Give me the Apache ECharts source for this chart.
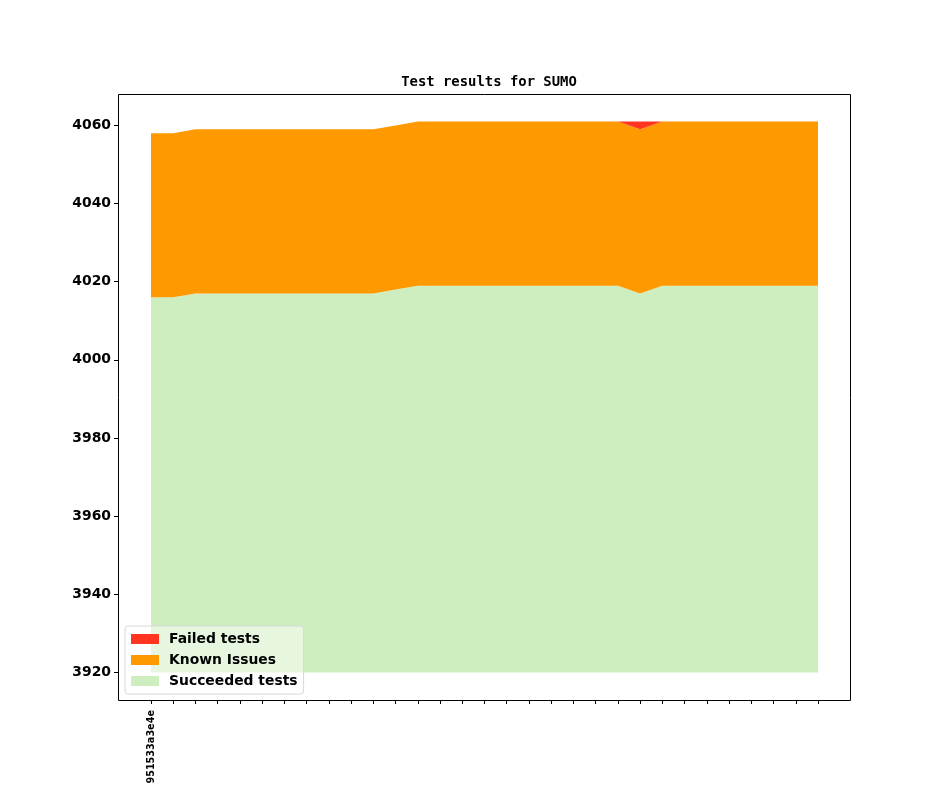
<!DOCTYPE html>
<html>
<head>
<meta charset="utf-8">
<script src="https://cdn.jsdelivr.net/npm/echarts@6/dist/echarts.min.js"></script>
<style>
  html, body { margin: 0; padding: 0; background: #fff; }
  #chart { width: 944px; height: 787px; }
</style>
</head>
<body>
<div id="chart"></div>
<script>
  // one entry per commit, only the first one is labelled
  const commits = ['951533a3e4e'].concat(Array(30).fill(''));

  const succeeded = [4016, 4016, 4017, 4017, 4017, 4017, 4017, 4017, 4017, 4017, 4017,
    4018, 4019, 4019, 4019, 4019, 4019, 4019, 4019, 4019, 4019, 4019, 4017, 4019, 4019,
    4019, 4019, 4019, 4019, 4019, 4019];
  const knownIssues = Array(31).fill(42);
  const failed = [0, 0, 0, 0, 0, 0, 0, 0, 0, 0, 0, 0, 0, 0, 0, 0, 0, 0, 0, 0, 0, 0, 2,
    0, 0, 0, 0, 0, 0, 0, 0];

  const yTicks = [3920, 3940, 3960, 3980, 4000, 4020, 4040, 4060];

  const boldText = { fontFamily: 'DejaVu Sans', fontWeight: 'bold', color: '#000' };

  function areaSeries(name, data, color, extra) {
    return Object.assign({
      name: name,
      type: 'line',
      stack: 'tests',
      data: data,
      showSymbol: false,
      symbol: 'none',
      lineStyle: { width: 0 },
      itemStyle: { color: color },
      areaStyle: { color: color, opacity: 1 }
    }, extra || {});
  }

  const chart = echarts.init(document.getElementById('chart'));
  chart.setOption({
    animation: false,
    title: {
      text: 'Test results for SUMO',
      left: 484,
      top: 70,
      textAlign: 'center',
      textStyle: { fontFamily: 'DejaVu Sans Mono', fontWeight: 'bold', fontSize: 13.9, color: '#000' }
    },
    legend: {
      orient: 'vertical',
      left: 125,
      top: 626,
      data: ['Failed tests', 'Known Issues', 'Succeeded tests'],
      icon: 'rect',
      itemWidth: 28,
      itemHeight: 10,
      itemGap: 7,
      padding: [6, 6, 6, 6],
      backgroundColor: 'rgba(255,255,255,0.5)',
      borderColor: '#d8d8d8',
      borderWidth: 1,
      borderRadius: 3,
      textStyle: Object.assign({ fontSize: 13.9, lineHeight: 14, padding: [0, 0, 0, 5] }, boldText)
    },
    grid: { left: 151, right: 126, top: 94, bottom: 87 },
    xAxis: {
      type: 'category',
      boundaryGap: false,
      data: commits,
      axisLine: { show: false },
      axisTick: { show: true, interval: 0, length: 4, lineStyle: { color: '#000' } },
      axisLabel: Object.assign({ interval: 0, rotate: 90, fontSize: 9.7, margin: 10 }, boldText),
      splitLine: { show: false }
    },
    yAxis: {
      type: 'value',
      min: 3912.95,
      max: 4068.05,
      offset: 33,
      axisLine: { show: false },
      axisTick: { show: true, length: 4, customValues: yTicks, lineStyle: { color: '#000' } },
      axisLabel: Object.assign({
        fontSize: 13.9,
        margin: 7,
        customValues: yTicks,
        formatter: function (v) { return String(v); }
      }, boldText),
      splitLine: { show: false }
    },
    graphic: [{
      type: 'rect',
      shape: { x: 118.5, y: 94.5, width: 732, height: 606 },
      style: { fill: 'none', stroke: '#000', lineWidth: 1 },
      z: 10
    }],
    series: [
      areaSeries('Succeeded tests', succeeded, '#cfeebf', { areaStyle: { color: '#cfeebf', opacity: 1, origin: 3920 } }),
      areaSeries('Known Issues', knownIssues, '#ff9900'),
      areaSeries('Failed tests', failed, '#ff3521')
    ]
  });
</script>
</body>
</html>
